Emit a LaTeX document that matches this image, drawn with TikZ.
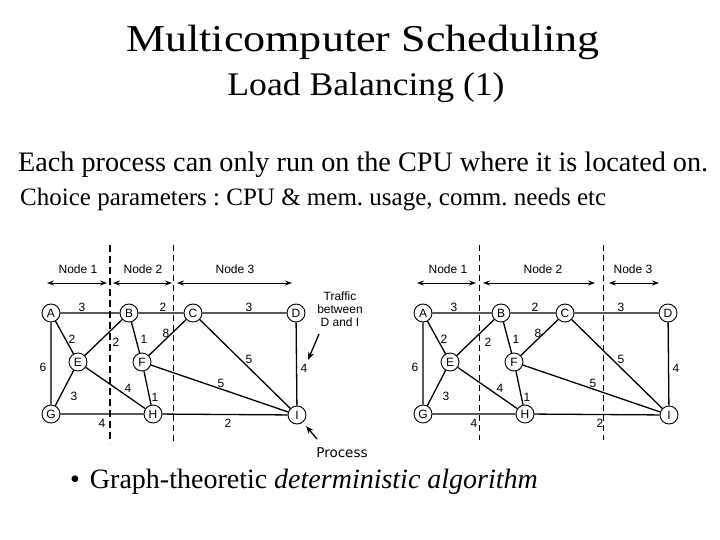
\documentclass[tikz,border=0pt]{standalone}
\usepackage{fontspec}
\setmainfont{Liberation Serif}
\newfontfamily\gsans{Liberation Sans}
\newfontfamily\psans{DejaVu Sans}
\usetikzlibrary{arrows.meta}
\tikzset{
  vtx/.style={circle,draw,line width=0.9pt,minimum size=18pt,inner sep=0pt,font=\gsans\fontsize{12}{12}\selectfont,fill=white},
  edge/.style={line width=1.3pt},
  wt/.style={font=\gsans\fontsize{12}{12}\selectfont,inner sep=0pt},
  hdr/.style={font=\gsans\fontsize{12}{12}\selectfont,inner sep=0pt},
  span/.style={line width=1pt,{Stealth[length=7pt,width=5pt]}-{Stealth[length=7pt,width=5pt]}},
  thickdash/.style={line width=1.6pt,dash pattern=on 7pt off 4pt},
  thindash/.style={line width=1pt,dash pattern=on 6pt off 4pt},
  ptr/.style={line width=1.3pt,-{Stealth[length=8pt,width=6pt]}},
  ttl/.style={inner sep=0pt,anchor=base},
}
\newcommand{\drawgraph}[1]{%
  \node[vtx] (#1A) at (51,313) {A};
  \node[vtx] (#1B) at (129,313) {B};
  \node[vtx] (#1C) at (193,313) {C};
  \node[vtx] (#1D) at (296,313) {D};
  \node[vtx] (#1E) at (78,362) {E};
  \node[vtx] (#1F) at (142,362) {F};
  \node[vtx] (#1G) at (51,414) {G};
  \node[vtx] (#1H) at (153,414) {H};
  \node[vtx] (#1I) at (297,415) {I};
  \draw[edge] (#1A)--(#1B) (#1B)--(#1C) (#1C)--(#1D) (#1A)--(#1E) (#1A)--(#1G)
    (#1B)--(#1E) (#1B)--(#1F) (#1C)--(#1F) (#1C)--(#1I) (#1D)--(#1I)
    (#1E)--(#1G) (#1E)--(#1H) (#1F)--(#1H) (#1F)--(#1I) (#1G)--(#1H) (#1H)--(#1I);
  \node[wt] (#1wAB) at (82,307) {3};
  \node[wt] (#1wBC) at (163,307) {2};
  \node[wt] (#1wCD) at (249,307) {3};
  \node[wt] (#1wAE) at (72,339) {2};
  \node[wt] (#1wBE) at (116,342) {2};
  \node[wt] (#1wBF) at (144,339) {1};
  \node[wt] (#1wCF) at (166,333) {8};
  \node[wt] (#1wAG) at (43,367) {6};
  \node[wt] (#1wEG) at (74,396) {3};
  \node[wt] (#1wEH) at (128,388) {4};
  \node[wt] (#1wFH) at (155,397) {1};
  \node[wt] (#1wGH) at (102,423) {4};
  \node[wt] (#1wHI) at (228,423) {2};
  \node[wt] (#1wFI) at (221,383) {5};
  \node[wt] (#1wCI) at (249,359) {5};
  \node[wt] (#1wDI) at (304,368) {4};
}
\begin{document}
\begin{tikzpicture}[x=1pt,y=-1pt]
\useasboundingbox (0,0) rectangle (720,540);
% titles
\node[ttl] (t1) at (363,52) {\fontsize{38}{38}\selectfont\scalebox{1.16}[1]{Multicomputer Scheduling}};
\node[ttl] (t2) at (366,96) {\fontsize{33}{33}\selectfont\scalebox{1.08}[1]{Load Balancing (1)}};
\node[ttl,anchor=base west] (t3) at (18,172) {\fontsize{28.2}{28}\selectfont\frenchspacing Each process can only run on the CPU where it is located on.};
\node[ttl,anchor=base west] (t4) at (20,206) {\fontsize{25}{25}\selectfont\frenchspacing Choice parameters : CPU \& mem. usage, comm. needs etc};
\node[ttl,anchor=base west] (t5) at (70,488) {\fontsize{28}{28}\selectfont \textbullet\hspace{10pt}Graph-theoretic \textit{deterministic algorithm}};
% left graph
\draw[thickdash] (110,245) -- (110,443);
\draw[thindash] (173,245) -- (173,443);
\coordinate (l1a) at (47,283); \coordinate (l1b) at (107,283);
\coordinate (l2a) at (113,283); \coordinate (l2b) at (172,283);
\coordinate (l3a) at (177,283); \coordinate (l3b) at (292,283);
\draw[span] (l1a)--(l1b); \draw[span] (l2a)--(l2b); \draw[span] (l3a)--(l3b);
\node[hdr] (ln1) at (78,269) {Node 1};
\node[hdr] (ln2) at (143,269) {Node 2};
\node[hdr] (ln3) at (235,269) {Node 3};
\drawgraph{L}
\node[hdr,align=center] (traffic) at (340,309) {Traffic\\[1pt]between\\[1pt]D and I};
\coordinate (tr1) at (319,334); \coordinate (tr2) at (308,360);
\draw[ptr] (tr1)--(tr2);
\node[font=\psans\fontsize{13.5}{13.5}\selectfont,inner sep=0pt] (proc) at (342,453) {Process};
\coordinate (pr1) at (317,439); \coordinate (pr2) at (306,426);
\draw[ptr] (pr1)--(pr2);
% right graph
\draw[thindash] (479,245) -- (479,440);
\draw[thindash] (603,245) -- (603,440);
\coordinate (r1a) at (417,283); \coordinate (r1b) at (476,283);
\coordinate (r2a) at (483,283); \coordinate (r2b) at (595,283);
\coordinate (r3a) at (609,283); \coordinate (r3b) at (659,283);
\draw[span] (r1a)--(r1b); \draw[span] (r2a)--(r2b); \draw[span] (r3a)--(r3b);
\node[hdr] (rn1) at (448,269) {Node 1};
\node[hdr] (rn2) at (543,269) {Node 2};
\node[hdr] (rn3) at (633,269) {Node 3};
\begin{scope}[shift={(372,0)}]
\drawgraph{R}
\end{scope}
\end{tikzpicture}
\end{document}
